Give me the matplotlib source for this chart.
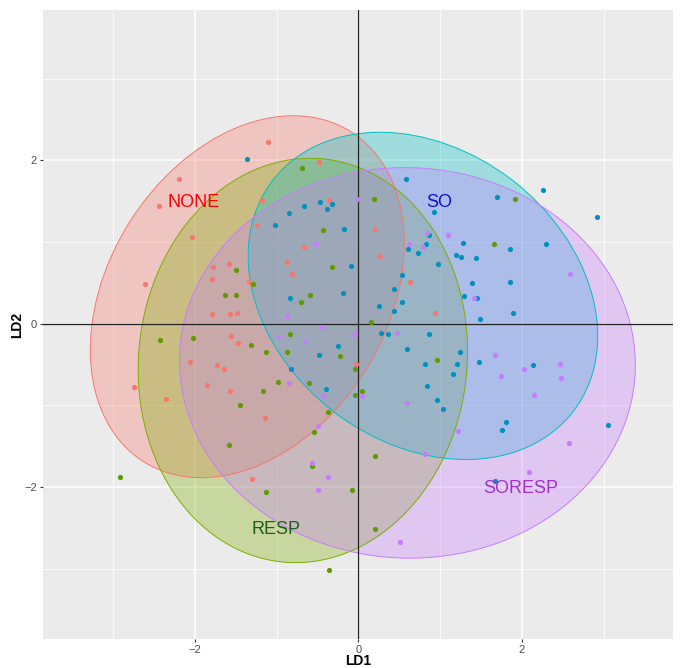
import numpy as np
import matplotlib
matplotlib.use("Agg")
import matplotlib.pyplot as plt
from matplotlib.patches import Ellipse

plt.rcParams['font.family'] = ['Liberation Sans', 'DejaVu Sans']

groups = ["NONE", "RESP", "SO", "SORESP"]
fill_colors = ["#F8766D", "#7CAE00", "#00BFC4", "#C77CFF"]
point_colors = ["#F8766D", "#5E9A00", "#0092BF", "#C77CFF"]
label_colors = ["#FF0000", "#1E5C1E", "#1010C8", "#A030D0"]

none_x = [-1.11, -0.48, -2.19, -1.18, -0.36, -2.44, -1.24, -2.04, -0.66, -0.87, -1.58, -1.78,
          -0.81, -1.79, -1.34, -2.61, -1.79, -1.57, -1.48, -1.56, -1.47, -0.03, -1.64, -2.06,
          -1.73, -2.75, -2.35, -1.85, -1.57, -1.14, -1.30, 0.20, 0.27, 0.63, 0.94]
none_y = [2.23, 1.98, 1.77, 1.52, 1.51, 1.44, 1.21, 1.06, 0.94, 0.75, 0.73, 0.69,
          0.61, 0.55, 0.51, 0.48, 0.12, 0.12, 0.13, -0.15, -0.24, -0.49, -0.55, -0.47,
          -0.50, -0.78, -0.92, -0.75, -0.82, -1.16, -1.90, 1.16, 0.83, 0.51, 0.13]

resp_x = [-0.69, -0.43, -1.50, -0.32, -1.29, -1.63, -1.50, -0.59, -0.70, -2.43, -2.02, -1.31,
          -0.84, -1.13, -0.88, -0.22, -0.04, -0.98, -0.60, -0.04, -1.17, -1.45, -0.37, -0.54,
          -1.58, -0.57, -1.13, -0.08, -0.36, -2.92, 0.19, 1.92, 1.66, 0.16, 0.96, 0.05, 0.20, 0.20]
resp_y = [1.91, 1.15, 0.66, 0.70, 0.48, 0.35, 0.35, 0.35, 0.27, -0.20, -0.18, -0.26,
          -0.13, -0.35, -0.35, -0.40, -0.56, -0.72, -0.73, -0.87, -0.82, -1.00, -1.08, -1.33,
          -1.48, -1.74, -2.06, -2.03, -3.01, -1.88, 1.53, 1.53, 0.97, 0.02, -0.45, -0.83, -1.62, -2.51]

so_x = [-1.36, -0.66, -0.47, -0.38, -0.32, -0.85, -1.02, -0.18, -0.09, -0.84, -0.19, -0.25,
        -0.48, -0.82, -0.40, 0.58, 2.26, 1.70, 0.93, 2.92, 0.87, 0.61, 0.83, 0.73,
        1.28, 1.86, 2.29, 1.20, 1.26, 1.44, 0.98, 0.53, 0.44, 1.39, 1.86, 0.25,
        0.53, 1.29, 1.45, 0.44, 1.89, 1.49, 0.28, 0.36, 0.87, 0.60, 1.24, 0.82,
        1.21, 1.48, 1.16, 0.84, 0.96, 1.04, 2.14, 1.81, 1.76, 3.06, 1.67]
so_y = [2.01, 1.44, 1.49, 1.41, 1.46, 1.35, 1.21, 1.16, 0.71, 0.32, 0.37, -0.27,
        -0.38, -0.56, -0.80, 1.77, 1.64, 1.55, 1.37, 1.31, 1.09, 0.91, 0.97, 0.87,
        0.99, 0.91, 0.97, 0.84, 0.82, 0.81, 0.73, 0.60, 0.43, 0.50, 0.51, 0.22,
        0.27, 0.34, 0.32, 0.15, 0.13, 0.06, -0.12, -0.13, -0.13, -0.31, -0.35, -0.49,
        -0.49, -0.47, -0.61, -0.76, -0.94, -1.04, -0.51, -1.20, -1.30, -1.24, -1.93]

soresp_x = [-0.52, -0.87, -0.44, -0.02, -0.04, -0.97, -0.65, -0.85, -0.43, -0.49, -0.57, -0.37,
            -0.49, 0.84, 1.10, 0.62, 0.79, 2.59, 1.42, 0.47, 1.67, 0.05, 0.60, 1.22,
            0.82, 0.51, 1.75, 2.03, 2.47, 2.48, 2.15, 2.58, 2.09]
soresp_y = [0.97, 0.09, -0.04, 1.53, -0.13, -0.16, -0.21, -0.73, -0.88, -1.25, -1.70, -1.88,
            -2.03, 1.11, 1.08, 0.97, 0.94, 0.61, 0.32, -0.12, -0.38, -0.88, -0.97, -1.31,
            -1.60, -2.67, -0.64, -0.56, -0.49, -0.67, -0.87, -1.46, -1.81]

# ellipse parameters: centre x, centre y, semi-major, semi-minor, angle (deg)
ell_cx = [-1.36, -0.68, 0.79, 0.60]
ell_cy = [0.33, -0.45, 0.34, -0.48]
ell_a = [2.385, 2.48, 2.32, 2.79]
ell_b = [1.706, 2.01, 1.79, 2.39]
ell_ang = [58.0, 84.0, -37.5, -2.0]

label_x = [-2.02, -1.01, 0.99, 1.99]
label_y = [1.48, -2.52, 1.48, -2.02]

xs = [none_x, resp_x, so_x, soresp_x]
ys = [none_y, resp_y, so_y, soresp_y]

fig = plt.figure(figsize=(6.8, 6.68), dpi=100)
ax = fig.add_axes([43/680, 1-639/668, 630/680, 629/668])
ax.set_facecolor("#EBEBEB")
ax.set_xlim(-3.86, 3.85)
ax.set_ylim(-3.86, 3.84)

ax.set_xticks([-2, 0, 2])
ax.set_yticks([-2, 0, 2])
ax.set_xticks([-3, -1, 1, 3], minor=True)
ax.set_yticks([-3, -1, 1, 3], minor=True)
ax.grid(which="major", color="white", linewidth=1.1, zorder=0)
ax.grid(which="minor", color="white", linewidth=0.55, zorder=0)
ax.set_axisbelow(True)
for s in ax.spines.values():
    s.set_visible(False)
ax.tick_params(which="major", length=2.5, width=0.8, color="#333333",
               labelsize=8, labelcolor="#4D4D4D", pad=2)
ax.tick_params(which="minor", length=0)

for i in range(4):
    e = Ellipse((ell_cx[i], ell_cy[i]), 2*ell_a[i], 2*ell_b[i], angle=ell_ang[i],
                facecolor=fill_colors[i], alpha=0.32, edgecolor="none", zorder=2)
    ax.add_patch(e)
    e2 = Ellipse((ell_cx[i], ell_cy[i]), 2*ell_a[i], 2*ell_b[i], angle=ell_ang[i],
                 facecolor="none", edgecolor=fill_colors[i], linewidth=0.7, zorder=2.1)
    ax.add_patch(e2)

ax.axhline(0, color="#222222", linewidth=0.9, zorder=3)
ax.axvline(0, color="#222222", linewidth=0.9, zorder=3)

for i in range(4):
    ax.scatter(xs[i], ys[i], s=14, color=point_colors[i], linewidths=0, zorder=4)
    ax.text(label_x[i], label_y[i], groups[i], color=label_colors[i], fontsize=13,
            ha="center", va="center", zorder=5)

ax.set_xlabel("LD1", fontsize=10, fontweight="bold", labelpad=-1)
ax.set_ylabel("LD2", fontsize=10, fontweight="bold", labelpad=0)

fig.savefig("out.png", dpi=100)
